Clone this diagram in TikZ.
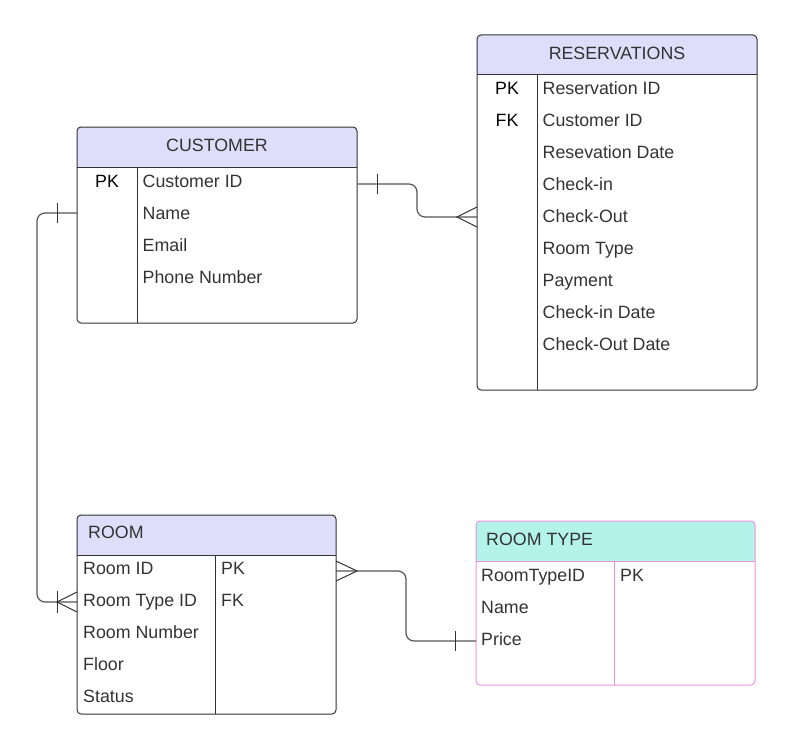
\documentclass[tikz,border=0pt]{standalone}
\usepackage{fontspec}
\setmainfont{Liberation Sans}
\usetikzlibrary{positioning}
\definecolor{lav}{HTML}{DEDEFA}
\definecolor{aqua}{HTML}{B4F3EA}
\definecolor{pinkedge}{HTML}{EC92DC}
\definecolor{edge}{HTML}{333333}
\definecolor{wire}{HTML}{555555}
\definecolor{ink}{HTML}{333333}

\begin{document}
\begin{tikzpicture}[x=1pt,y=-1pt,
    tblbox/.style={inner sep=0pt,outer sep=0pt,anchor=north west},
    tblline/.style={draw=edge,line width=1pt},
    cell/.style={inner sep=0pt,text height=12.8pt,text depth=0pt,anchor=west,text=ink,font=\fontsize{17.8}{21}\selectfont},
    conn/.style={draw=wire,line width=1.2pt,rounded corners=8pt},
    cardline/.style={draw=edge,line width=1pt}]
    \useasboundingbox (0,0) rectangle (794,749);

    % CUSTOMER
    \node[tblbox,minimum width=280pt,minimum height=196pt] (cust) at (77,127) {};
    \begin{scope}
        \clip (cust.north west) rectangle ([yshift=-40pt]cust.north east);
        \fill[lav,rounded corners=4pt] (cust.north west) rectangle (cust.south east);
    \end{scope}
    \draw[tblline] ([yshift=-40pt]cust.north west) -- ([yshift=-40pt]cust.north east);
    \draw[tblline] ([shift={(60pt,-40pt)}]cust.north west) -- ([xshift=60pt]cust.south west);
    \draw[tblline,rounded corners=4pt] (cust.north west) rectangle (cust.south east);
    \node[cell,anchor=center] (custtitle) at (217,145) {CUSTOMER};
    \node[cell,anchor=center,text=black] (custpk) at (107,181) {PK};
    \node[cell] (cust1) at (142.5,181) {Customer ID};
    \node[cell] (cust2) at (142.5,213) {Name};
    \node[cell] (cust3) at (142.5,245) {Email};
    \node[cell] (cust4) at (142.5,277) {Phone Number};

    % RESERVATIONS
    \node[tblbox,minimum width=280pt,minimum height=355pt] (res) at (477,35) {};
    \begin{scope}
        \clip (res.north west) rectangle ([yshift=-40pt]res.north east);
        \fill[lav,rounded corners=4pt] (res.north west) rectangle (res.south east);
    \end{scope}
    \draw[tblline] ([yshift=-40pt]res.north west) -- ([yshift=-40pt]res.north east);
    \draw[tblline] ([shift={(60pt,-40pt)}]res.north west) -- ([xshift=60pt]res.south west);
    \draw[tblline,rounded corners=4pt] (res.north west) rectangle (res.south east);
    \node[cell,anchor=center] (restitle) at (617,53) {RESERVATIONS};
    \node[cell,anchor=center,text=black] (respk) at (507,88) {PK};
    \node[cell,anchor=center,text=black] (resfk) at (507,120) {FK};
    \node[cell] (res1) at (542.5,88) {Reservation ID};
    \node[cell] (res2) at (542.5,120) {Customer ID};
    \node[cell] (res3) at (542.5,152) {Resevation Date};
    \node[cell] (res4) at (542.5,184) {Check-in};
    \node[cell] (res5) at (542.5,216) {Check-Out};
    \node[cell] (res6) at (542.5,248) {Room Type};
    \node[cell] (res7) at (542.5,280) {Payment};
    \node[cell] (res8) at (542.5,312) {Check-in Date};
    \node[cell] (res9) at (542.5,344) {Check-Out Date};

    % ROOM
    \node[tblbox,minimum width=259pt,minimum height=199pt] (room) at (77,515) {};
    \begin{scope}
        \clip (room.north west) rectangle ([yshift=-40pt]room.north east);
        \fill[lav,rounded corners=4pt] (room.north west) rectangle (room.south east);
    \end{scope}
    \draw[tblline] ([yshift=-40pt]room.north west) -- ([yshift=-40pt]room.north east);
    \draw[tblline] ([shift={(138pt,-40pt)}]room.north west) -- ([xshift=138pt]room.south west);
    \draw[tblline,rounded corners=4pt] (room.north west) rectangle (room.south east);
    \node[cell] (roomtitle) at (88,532) {ROOM};
    \node[cell] (room1) at (83,568) {Room ID};
    \node[cell] (room2) at (83,600) {Room Type ID};
    \node[cell] (room3) at (83,632) {Room Number};
    \node[cell] (room4) at (83,664) {Floor};
    \node[cell] (room5) at (83,696) {Status};
    \node[cell] (roompk) at (221,568) {PK};
    \node[cell] (roomfk) at (221,600) {FK};

    % ROOM TYPE
    \node[tblbox,minimum width=279pt,minimum height=164pt] (rtype) at (476,521) {};
    \begin{scope}
        \clip (rtype.north west) rectangle ([yshift=-40pt]rtype.north east);
        \fill[aqua,rounded corners=4pt] (rtype.north west) rectangle (rtype.south east);
    \end{scope}
    \draw[tblline,draw=pinkedge] ([yshift=-40pt]rtype.north west) -- ([yshift=-40pt]rtype.north east);
    \draw[tblline,draw=pinkedge] ([shift={(138pt,-40pt)}]rtype.north west) -- ([xshift=138pt]rtype.south west);
    \draw[tblline,draw=pinkedge,rounded corners=4pt] (rtype.north west) rectangle (rtype.south east);
    \node[cell] (rtypetitle) at (486,539) {ROOM TYPE};
    \node[cell] (rtype1) at (481,575) {RoomTypeID};
    \node[cell] (rtype2) at (481,607) {Name};
    \node[cell] (rtype3) at (481,639) {Price};
    \node[cell] (rtypepk) at (620,575) {PK};

    % relationships
    \coordinate (custR) at ([yshift=-57pt]cust.north east);
    \coordinate (custL) at ([yshift=-86pt]cust.north west);
    \coordinate (resL) at ([yshift=-182pt]res.north west);
    \coordinate (roomL) at ([yshift=-87pt]room.north west);
    \coordinate (roomR) at ([yshift=-56pt]room.north east);
    \coordinate (rtypeL) at ([yshift=-120pt]rtype.north west);

    \draw[conn] (custR) -- ++(60,0) |- (resL);
    \draw[conn] (custL) -- ++(-40,0) |- (roomL);
    \draw[conn] (roomR) -- ++(70,0) |- (rtypeL);

    \draw[cardline] ([shift={(20pt,10pt)}]custR) -- ([shift={(20pt,-10pt)}]custR);
    \draw[cardline] ([yshift=10pt]resL) -- ([xshift=-20pt]resL) -- ([yshift=-10pt]resL);
    \draw[cardline] ([shift={(-20pt,10pt)}]custL) -- ([shift={(-20pt,-10pt)}]custL);
    \draw[cardline] ([shift={(-20pt,11pt)}]roomL) -- ([shift={(-20pt,-11pt)}]roomL);
    \draw[cardline] ([yshift=10pt]roomL) -- ([xshift=-20pt]roomL) -- ([yshift=-10pt]roomL);
    \draw[cardline] ([yshift=10pt]roomR) -- ([xshift=21pt]roomR) -- ([yshift=-10pt]roomR);
    \draw[cardline] ([shift={(-21pt,10pt)}]rtypeL) -- ([shift={(-21pt,-10pt)}]rtypeL);
\end{tikzpicture}
\end{document}
